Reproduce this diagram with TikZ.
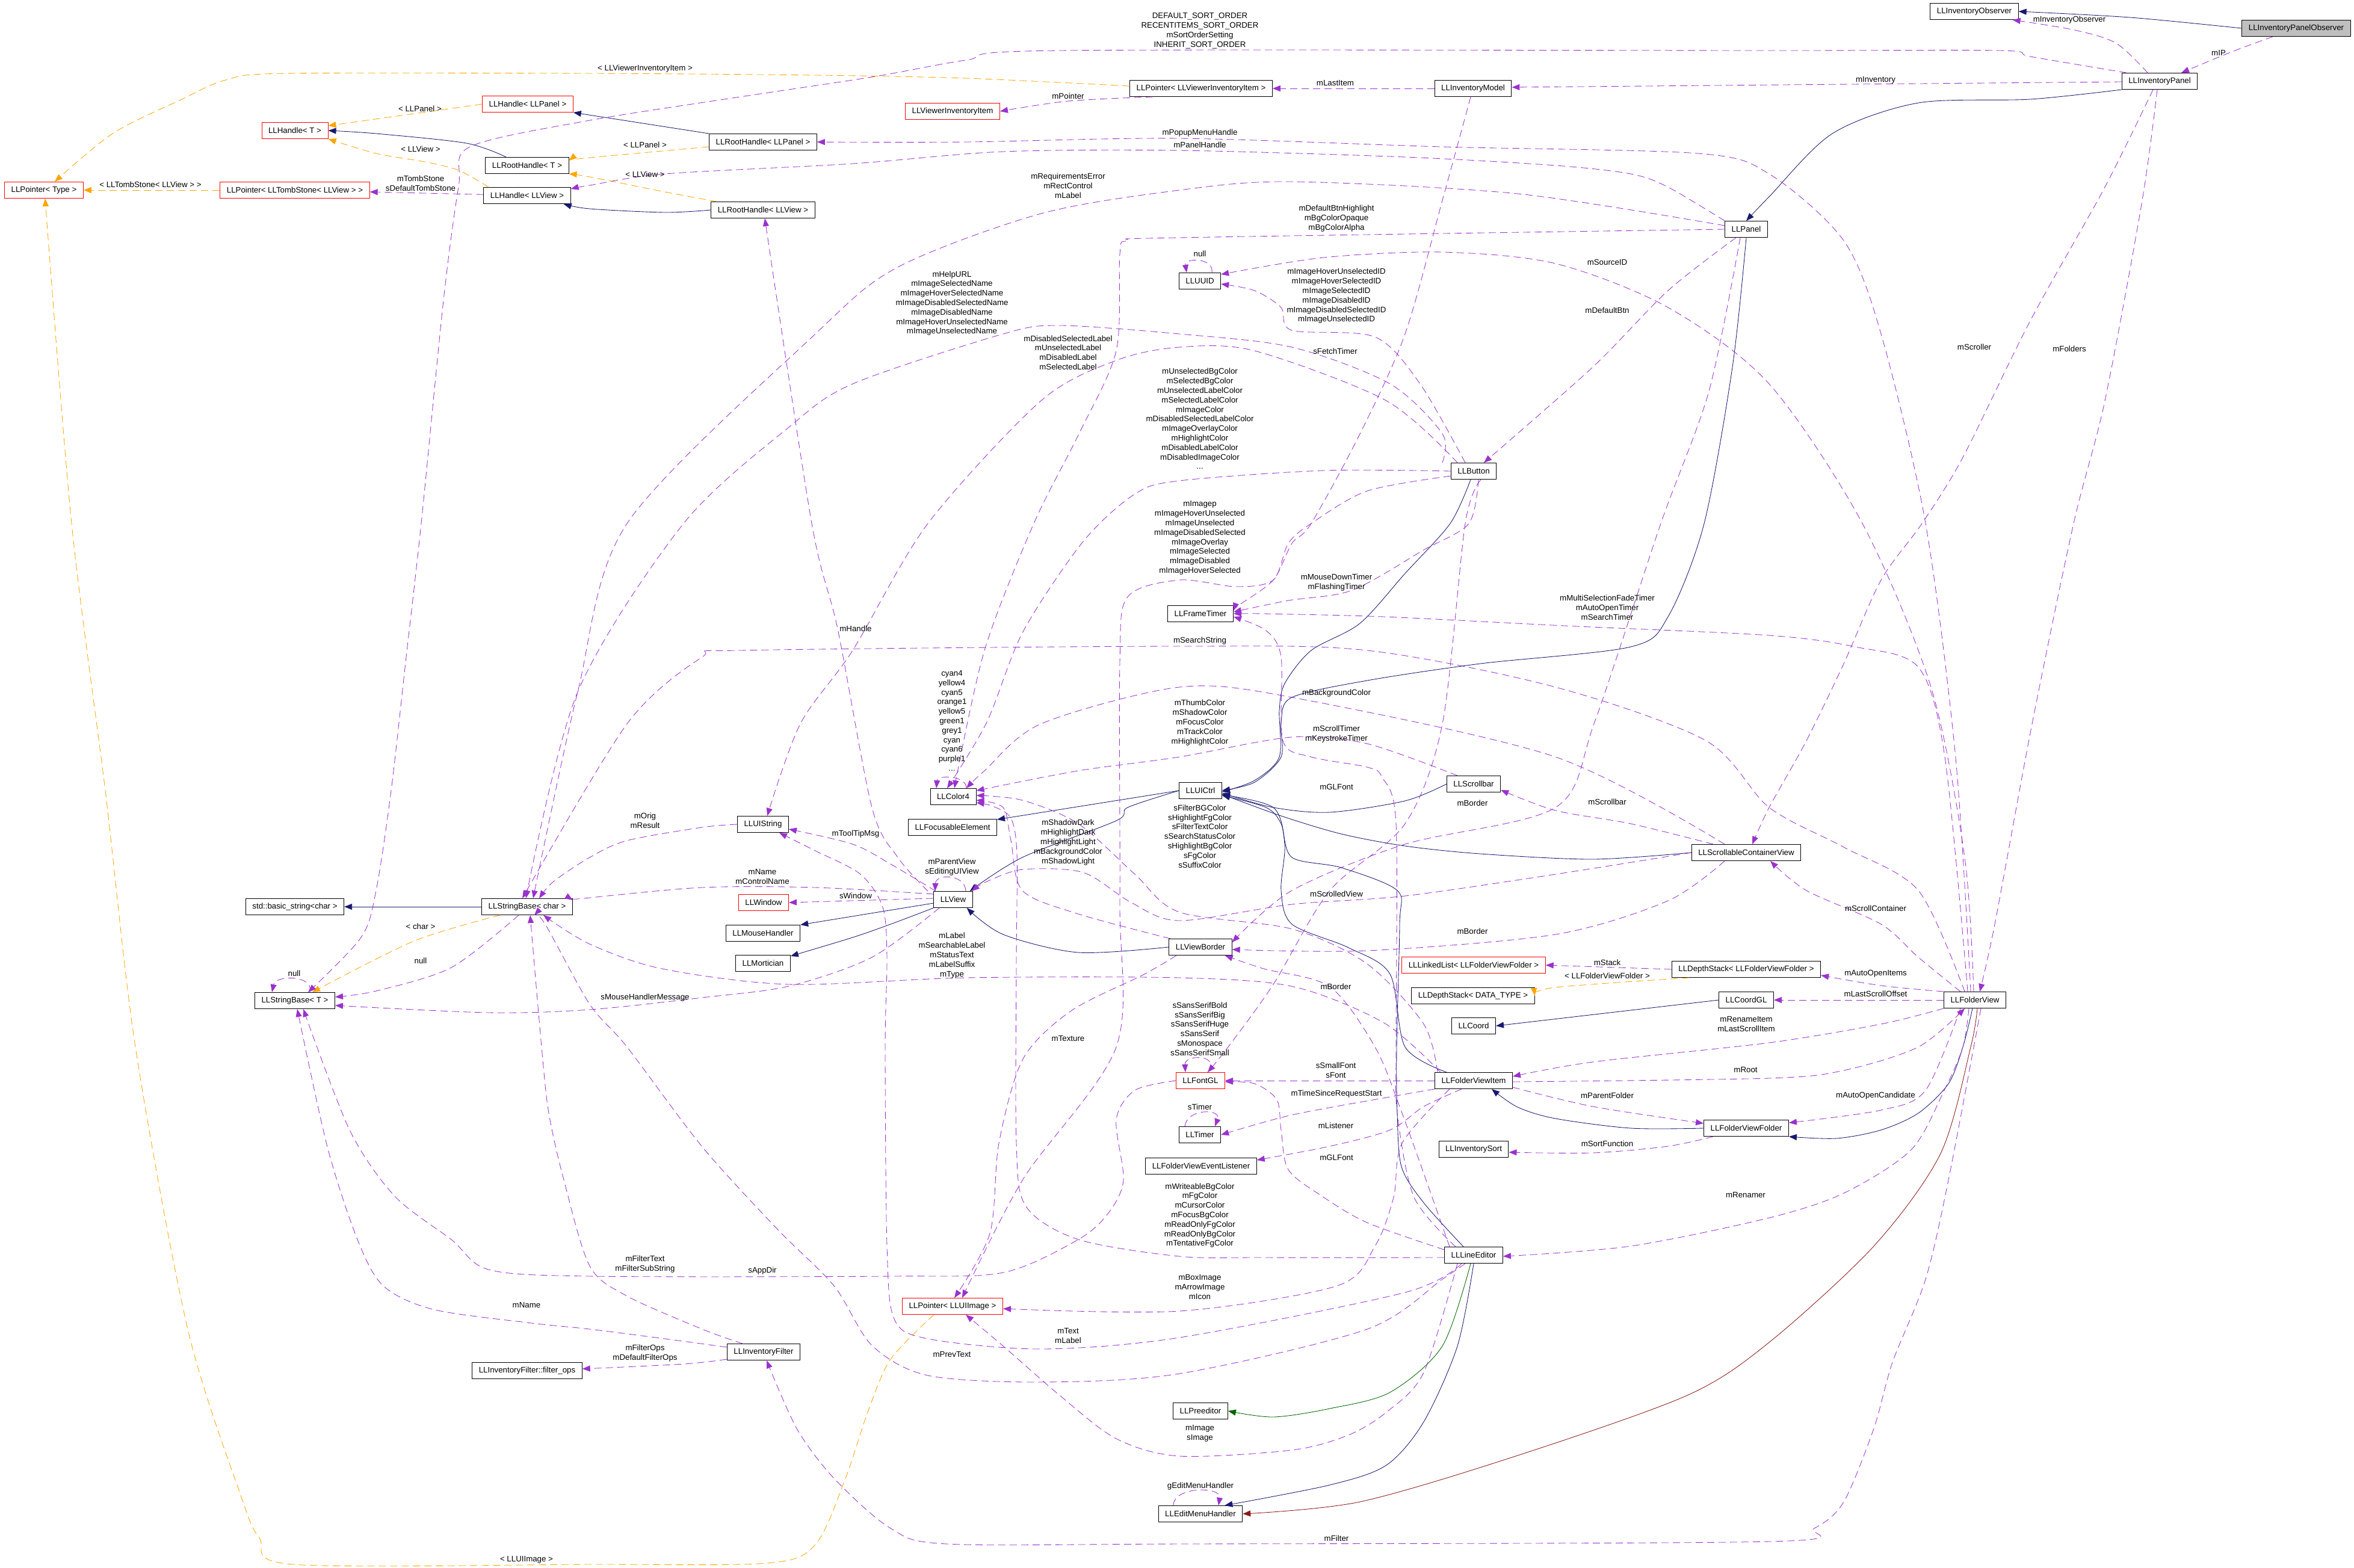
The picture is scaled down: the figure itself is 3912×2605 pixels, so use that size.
\documentclass[tikz,border=0pt]{standalone}
\usepackage{fontspec}
\setmainfont{Liberation Sans}
\usetikzlibrary{arrows.meta}
\definecolor{navyedge}{RGB}{25,25,112}
\definecolor{memberedge}{RGB}{154,50,205}
\definecolor{tmpledge}{RGB}{255,165,0}
\definecolor{protedge}{RGB}{0,100,0}
\definecolor{privedge}{RGB}{139,26,26}
\definecolor{rootfill}{RGB}{191,191,191}
\newcommand\lbl{\fontsize{13.3pt}{15.8pt}\selectfont}
\begin{document}
\begin{tikzpicture}[x=1pt,y=-1pt,
  cls/.style={draw=black, line width=1pt, font=\lbl, minimum height=27pt, inner xsep=11pt, inner ysep=0pt},
  undoc/.style={cls, draw=red},
  edgelbl/.style={font=\lbl, align=center, inner sep=0pt},
  inh/.style={navyedge, line width=0.85pt, -{Triangle[length=13pt,width=10pt]}},
  member/.style={memberedge, line width=0.85pt, dash pattern=on 12pt off 7pt, -{Triangle[length=13pt,width=10pt]}},
  tmpl/.style={tmpledge, line width=0.85pt, dash pattern=on 12pt off 7pt, -{Triangle[length=13pt,width=10pt]}},
  prot/.style={protedge, line width=0.85pt, -{Triangle[length=13pt,width=10pt]}},
  priv/.style={privedge, line width=0.85pt, -{Triangle[length=13pt,width=10pt]}}]
\useasboundingbox (0,0) rectangle (3912,2605);

\node[undoc] (ptrtype) at (73,316) {LLPointer< Type >};
\node[undoc] (ptrtomb) at (490,316) {LLPointer< LLTombStone< LLView > >};
\node[undoc] (handleT) at (490,217) {LLHandle< T >};
\node[undoc] (handlepanel) at (877,173) {LLHandle< LLPanel >};
\node[cls] (roothandleT) at (876,275) {LLRootHandle< T >};
\node[cls] (handleview) at (876,325) {LLHandle< LLView >};
\node[cls] (roothandlepanel) at (1268,236) {LLRootHandle< LLPanel >};
\node[cls] (roothandleview) at (1268,349) {LLRootHandle< LLView >};
\node[undoc] (viewerinvitem) at (1583,185) {LLViewerInventoryItem};
\node[cls] (ptrviewerinv) at (1996,147) {LLPointer< LLViewerInventoryItem >};
\node[cls] (invmodel) at (2448,147) {LLInventoryModel};
\node[cls] (invobserver) at (3281,19) {LLInventoryObserver};
\node[cls, fill=rootfill] (invpanelobs) at (3816,47) {LLInventoryPanelObserver};
\node[cls] (invpanel) at (3589,135) {LLInventoryPanel};
\node[cls] (panel) at (2902,381) {LLPanel};
\node[cls] (uuid) at (1994,467) {LLUUID};
\node[cls] (button) at (2449,783) {LLButton};
\node[cls] (frametimer) at (1995,1020) {LLFrameTimer};
\node[cls] (color4) at (1584,1324) {LLColor4};
\node[cls] (focusable) at (1583,1375) {LLFocusableElement};
\node[cls] (uistring) at (1268,1370) {LLUIString};
\node[cls] (uictrl) at (1995,1314) {LLUICtrl};
\node[cls] (scrollbar) at (2449,1303) {LLScrollbar};
\node[cls] (scrollcont) at (2902,1417) {LLScrollableContainerView};
\node[cls] (view) at (1584,1495) {LLView};
\node[undoc] (window) at (1269,1500) {LLWindow};
\node[cls] (mousehandler) at (1268,1551) {LLMouseHandler};
\node[cls] (mortician) at (1268,1601) {LLMortician};
\node[cls] (basicstring) at (490,1507) {std::basic\_string<char >};
\node[cls] (strbasechar) at (876,1507) {LLStringBase< char >};
\node[cls] (strbaseT) at (490,1663) {LLStringBase< T >};
\node[cls] (viewborder) at (1995,1574) {LLViewBorder};
\node[undoc] (linkedlist) at (2449,1604) {LLLinkedList< LLFolderViewFolder >};
\node[cls] (depthstackfvf) at (2902,1611) {LLDepthStack< LLFolderViewFolder >};
\node[cls] (depthstackT) at (2448,1655) {LLDepthStack< DATA\_TYPE >};
\node[cls] (coordgl) at (2902,1662) {LLCoordGL};
\node[cls] (coord) at (2449,1705) {LLCoord};
\node[cls] (folderview) at (3282,1662) {LLFolderView};
\node[undoc] (fontgl) at (1995,1796) {LLFontGL};
\node[cls] (folderviewitem) at (2449,1796) {LLFolderViewItem};
\node[cls] (timer) at (1994,1886) {LLTimer};
\node[cls] (eventlistener) at (1996,1938) {LLFolderViewEventListener};
\node[cls] (folderviewfolder) at (2902,1875) {LLFolderViewFolder};
\node[cls] (invsort) at (2449,1910) {LLInventorySort};
\node[cls] (lineeditor) at (2449,2086) {LLLineEditor};
\node[undoc] (ptruiimage) at (1583,2171) {LLPointer< LLUIImage >};
\node[cls] (invfilter) at (1269,2247) {LLInventoryFilter};
\node[cls] (filterops) at (876,2278) {LLInventoryFilter::filter\_ops};
\node[cls] (preeditor) at (1995,2345) {LLPreeditor};
\node[cls] (editmenu) at (1995,2516) {LLEditMenuHandler};

\draw[inh] plot[smooth] coordinates {(invpanelobs.west) (3540,29) (invobserver.east)};
\draw[inh] plot[smooth] coordinates {(invpanel.south west) (3374,165) (3188,171) (3045,222) (2940,327) (panel.north)};
\draw[inh] (roothandlepanel.north west) -- (handlepanel.south east);
\draw[inh] plot[smooth] coordinates {([xshift=-35pt]roothandleT.north) (775,238) (625,222) (handleT.east)};
\draw[inh] plot[smooth] coordinates {(roothandleview.west) (1105,353) (980,347) ([xshift=-12pt]handleview.south east)};
\draw[inh] (strbasechar) -- (basicstring);
\draw[inh] plot[smooth] coordinates {(uictrl.west) (1874,1342) (1855,1364) (1699,1425) ([xshift=-5pt]view.north east)};
\draw[inh] (uictrl.west) -- ([yshift=-1pt]focusable.north east);
\draw[inh] ([yshift=8pt]view.south west) -- (mousehandler.north east);
\draw[inh] plot[smooth] coordinates {(view.south west) (1480,1536) (1417,1558) ([yshift=-2pt]mortician.north east)};
\draw[inh] plot[smooth] coordinates {(viewborder.west) (1792,1583) (1667,1553) ([xshift=-10pt]view.south east)};
\draw[inh] plot[smooth] coordinates {([xshift=-5pt]button.south) (2410,870) (2335,953) (2260,1036) (2179,1081) (2135,1136) (2126,1181) (2126,1258) (2085,1297) ([yshift=-2pt]uictrl.east)};
\draw[inh] plot[smooth] coordinates {(panel.south) (2879,610) (2832,870) (2772,1025) (2710,1075) (2460,1103) (2272,1131) (2147,1159) (2129,1200) (2129,1258) (2085,1300) (uictrl.east)};
\draw[inh] plot[smooth] coordinates {(scrollbar.west) (2335,1331) (2210,1350) (2116,1342) ([yshift=-4pt]uictrl.east)};
\draw[inh] plot[smooth] coordinates {(scrollcont.west) (2647,1428) (2460,1419) (2335,1406) (2229,1386) (2129,1356) ([yshift=-6pt]uictrl.east)};
\draw[inh] plot[smooth] coordinates {([xshift=-45pt]folderviewitem.north) (2335,1740) (2310,1619) (2241,1575) (2147,1536) (2129,1480) (2135,1403) (2116,1342) ([yshift=-7pt]uictrl.east)};
\draw[inh] plot[smooth] coordinates {([xshift=-17pt]lineeditor.north) (2366,1999) (2329,1939) (2322,1850) (2321,1740) (2326,1536) (2322,1480) (2229,1442) (2147,1425) (2129,1369) (2104,1342) ([yshift=-8pt]uictrl.east)};
\draw[inh] plot[smooth] coordinates {(folderviewfolder.west) (2710,1875) (2585,1859) (2522,1840) ([xshift=30pt]folderviewitem.south)};
\draw[inh] plot[smooth] coordinates {([xshift=-4pt]folderview.south) (3262,1740) (3238,1801) (3188,1850) (3126,1878) (3052,1892) (folderviewfolder.south east)};
\draw[inh] (coordgl.west) -- (coord.east);
\draw[inh] plot[smooth] coordinates {(lineeditor.south) (2422,2237) (2366,2363) (2304,2435) (2210,2468) ([xshift=-30pt]editmenu.north east)};
\draw[priv] plot[smooth] coordinates {([xshift=4pt]folderview.south) (3275,1740) (3225,1917) (3114,2071) (2940,2231) (2804,2319) (2522,2419) (2260,2496) (editmenu.east)};
\draw[prot] plot[smooth] coordinates {([xshift=-5pt]lineeditor.south) (2397,2237) (2310,2314) (2210,2341) (2116,2355) (preeditor.east)};

\draw[tmpl] (handlepanel.west) -- ([yshift=-6pt]handleT.north east);
\draw[tmpl] plot[smooth] coordinates {([xshift=-64pt]handleview.north) (762,283) (706,269) (625,255) (handleT.south east)};
\draw[tmpl] (ptrtomb) -- (ptrtype);
\draw[tmpl] plot[smooth] coordinates {([yshift=-8pt]roothandlepanel.west) (980,262) ([yshift=8pt]roothandleT.east)};
\draw[tmpl] plot[smooth] coordinates {([xshift=10pt]roothandleview.north west) (1105,319) (980,294) ([yshift=-14pt]roothandleT.east)};
\draw[tmpl] plot[smooth] coordinates {([yshift=4pt]ptrviewerinv.west) (1605,130) (1355,125) (980,122) (475,122) (375,133) (300,166) (187,222) ([xshift=18pt]ptrtype.north)};
\draw[tmpl] plot[smooth] coordinates {([xshift=-45pt]strbasechar.south) (688,1564) ([xshift=29pt]strbaseT.north)};
\draw[tmpl] plot[smooth] coordinates {([xshift=29pt]depthstackfvf.south west) (2585,1641) (depthstackT.east)};
\draw[tmpl] plot[smooth] coordinates {([xshift=-31pt]ptruiimage.south) (1480,2259) (1442,2347) (1405,2457) (1355,2567) (1274,2598) (980,2600) (487,2600) (431,2556) (400,2485) (312,2209) (225,1740) (175,1314) (119,870) ([xshift=2pt]ptrtype.south)};

\draw[member] plot[smooth] coordinates {([xshift=-20pt]invpanel.north) (3517,72) (3448,50) ([xshift=-10pt]invobserver.south east)};
\draw[member] plot[smooth] coordinates {([xshift=-39pt]invpanelobs.south) (3709,86) ([xshift=36pt]invpanel.north)};
\draw[member] ([yshift=-1pt]invpanel.west) -- ([yshift=2pt]invmodel.east);
\draw[member] (invmodel) -- (ptrviewerinv);
\draw[member] plot[smooth] coordinates {([xshift=-80pt]ptrviewerinv.south) (1775,168) (viewerinvitem.east)};
\draw[member] plot[smooth] coordinates {([xshift=-55pt]invpanel.north) (3374,94) (3324,84) (2940,84) (1761,84) (1605,100) (1449,128) (1230,161) (980,200) (781,244) (762,311) (737,499) (700,870) (675,1092) (650,1314) (625,1480) (600,1558) ([xshift=22pt]strbaseT.north)};
\draw[member] plot[smooth] coordinates {([xshift=-7pt]folderview.north) (3250,1260) (3200,870) (3126,555) (3064,400) (2940,289) (2822,255) (2397,244) (1960,230) (1605,236) (roothandlepanel.east)};
\draw[member] plot[smooth] coordinates {(panel.north west) (2772,311) (2710,289) (2585,275) (2335,261) (1960,250) (1667,252) (1417,272) (1105,289) (980,308) ([yshift=-3pt]handleview.north east)};
\draw[member] plot[smooth] coordinates {([yshift=6pt]panel.west) (2522,322) (2147,302) (1960,316) (1730,355) (1492,444) (1355,555) (1042,870) (960,1150) ([xshift=10pt]strbasechar.north)};
\draw[member] plot[smooth] coordinates {(panel.west) (1960,395) (1874,400) (1861,422) (1855,583) (1793,721) (1718,870) (1636,1081) ([xshift=2pt]color4.north)};
\draw[member] plot[smooth] coordinates {([xshift=-17pt]panel.south) (2772,483) (2647,610) ([xshift=17pt]button.north)};
\draw[member] plot[smooth] coordinates {([xshift=-14pt]button.north) (2360,638) (2285,560) (2147,549) (2129,511) (2085,483) ([yshift=-5pt]uuid.east)};
\draw[member] plot[smooth] coordinates {([xshift=-2pt]folderview.north) (3265,1425) (3209,1142) (3095,870) (2940,638) (2772,511) (2585,438) (2397,419) (2200,428) ([yshift=11pt]uuid.east)};
\draw[member] ([xshift=20pt]uuid.north) .. controls (2018,428) and (1968,428) .. ([xshift=-22pt]uuid.north);
\draw[member] plot[smooth] coordinates {([xshift=-4pt]invmodel.south) (2397,333) (2335,555) (2260,721) (2179,870) (2147,903) (2116,964) (2060,1005) ([yshift=5pt]frametimer.east)};
\draw[member] plot[smooth] coordinates {([xshift=8pt]button.south) (2441,870) (2366,914) (2247,981) (2141,998) ([yshift=3pt]frametimer.east)};
\draw[member] plot[smooth] coordinates {([xshift=-12pt]folderview.north) (3232,1258) (3188,1109) (3083,1075) (2940,1056) (2600,1040) (2300,1025) (2100,1020) (frametimer.east)};
\draw[member] plot[smooth] coordinates {(button.west) (2200,782) (1960,799) (1886,821) (1800,900) (1700,1050) (1640,1200) ([xshift=-10pt]color4.north)};
\draw[member] plot[smooth] coordinates {([xshift=-14pt]button.north west) (2397,721) (2310,638) (2147,577) (1960,555) (1761,541) (1667,555) (1417,638) (1311,710) (1136,870) (960,1150) ([xshift=-2pt]strbasechar.north)};
\draw[member] plot[smooth] coordinates {([xshift=-27pt]button.north) (2304,666) (2085,583) (1960,577) (1855,599) (1730,666) (1542,870) (1417,1081) (1330,1203) ([xshift=7pt]uistring.north)};
\draw[member] plot[smooth] coordinates {([yshift=-8pt]button.west) (2272,816) (2179,870) (2141,903) (2116,964) (2054,975) (1960,964) (1874,992) (1861,1100) (1861,1500) (1855,1740) (1700,1960) ([xshift=16pt]ptruiimage.north)};
\draw[member] plot[smooth] coordinates {([xshift=-42pt]view.north) (1492,1425) (1449,1342) (1392,1045) (1349,870) ([xshift=3pt]roothandleview.south)};
\draw[member] ([xshift=21pt]view.north) .. controls (1604,1452) and (1555,1452) .. ([xshift=-30pt]view.north);
\draw[member] plot[smooth] coordinates {([xshift=-29pt]view.north) (1480,1436) (1417,1403) ([yshift=-8pt]uistring.east)};
\draw[member] plot[smooth] coordinates {([yshift=9pt]view.west) (1355,1475) (1167,1475) (980,1492) ([yshift=11pt]strbasechar.east)};
\draw[member] ([yshift=2pt]view.west) -- (window.east);
\draw[member] plot[smooth] coordinates {([xshift=-23pt]view.south) (1449,1591) (1311,1639) (1167,1658) (980,1678) (812,1683) ([yshift=-8pt]strbaseT.east)};
\draw[member] plot[smooth] coordinates {(uistring.west) (1167,1375) (1042,1397) (980,1425) (920,1465) ([xshift=20pt]strbasechar.north)};
\draw[member] ([xshift=22pt]color4.north) .. controls (1606,1288) and (1558,1288) .. ([xshift=-28pt]color4.north);
\draw[member] plot[smooth] coordinates {([xshift=-36pt]scrollcont.north) (2585,1258) (2147,1159) (1960,1142) (1730,1203) (1636,1281) ([xshift=22pt]color4.north)};
\draw[member] plot[smooth] coordinates {([xshift=-27pt]scrollbar.north) (2272,1236) (2147,1225) (1960,1258) (1792,1281) ([yshift=10pt]color4.east)};
\draw[member] plot[smooth] coordinates {([xshift=-30pt]lineeditor.north) (2350,1990) (2322,1850) (2320,1740) (2320,1369) (2297,1292) (2272,1275) (2179,1258) (2132,1231) (2129,1092) (2104,1048) ([yshift=-5pt]frametimer.east)};
\draw[member] plot[smooth] coordinates {([xshift=12pt]button.south) (2435,870) (2397,1203) (2335,1369) (2210,1480) (2116,1636) (2041,1740) ([xshift=12pt]fontgl.north)};
\draw[member] plot[smooth] coordinates {([yshift=9pt]lineeditor.west) (2272,2032) (2197,1988) (2141,1944) (2129,1878) (2122,1828) (2085,1801) ([yshift=-2pt]fontgl.east)};
\draw[member] plot[smooth] coordinates {([xshift=-55pt]scrollcont.north) (2710,1369) (2585,1347) ([yshift=-10pt]scrollbar.east)};
\draw[member] plot[smooth] coordinates {(scrollcont.west) (2585,1453) (2335,1489) (2147,1503) (1960,1530) (1880,1500) (1800,1450) (1700,1445) (1640,1465) ([xshift=-2pt]view.north east)};
\draw[member] plot[smooth] coordinates {([xshift=-36pt]scrollcont.south) (2772,1497) (2585,1553) (2272,1580) ([yshift=-4pt]viewborder.east)};
\draw[member] plot[smooth] coordinates {([xshift=-10pt]panel.south) (2840,650) (2760,870) (2650,1200) (2585,1342) (2335,1403) (2147,1480) ([yshift=8pt]viewborder.east)};
\draw[member] plot[smooth] coordinates {([xshift=-40pt]lineeditor.north) (2330,1850) (2285,1740) (2210,1640) (2100,1610) ([xshift=-12pt]viewborder.south east)};
\draw[member] (folderviewitem.west) -- (fontgl.east);
\draw[member] plot[smooth] coordinates {(folderviewitem.south west) (2310,1823) (2147,1853) (timer.east)};
\draw[member] plot[smooth] coordinates {([xshift=-20pt]folderviewitem.south) (2366,1839) (2310,1878) (2210,1905) ([yshift=10pt]eventlistener.east)};
\draw[member] plot[smooth] coordinates {([yshift=-11pt]folderviewitem.east) (2647,1839) ([yshift=8pt]folderviewfolder.west)};
\draw[member] plot[smooth] coordinates {([xshift=-55pt]folderviewfolder.south) (2772,1905) (2647,1916) ([yshift=-5pt]invsort.east)};
\draw[member] plot[smooth] coordinates {([yshift=-2pt]folderviewitem.east) (2940,1792) (3064,1779) (3188,1740) ([xshift=-17pt]folderview.south)};
\draw[member] plot[smooth] coordinates {(folderview.south west) (3126,1702) (2940,1733) (2647,1765) ([yshift=7pt]folderviewitem.east)};
\draw[member] plot[smooth] coordinates {([xshift=-10pt]folderview.south) (3262,1740) (3231,1812) (3176,1911) (3064,1983) (2940,2024) (2710,2071) ([yshift=-2pt]lineeditor.east)};
\draw[member] plot[smooth] coordinates {([xshift=-24pt]folderview.south) (3200,1812) (3126,1845) ([yshift=9pt]folderviewfolder.east)};
\draw[member] plot[smooth] coordinates {([xshift=10pt]folderview.south) (3238,1961) (3200,2126) (3145,2264) (3114,2374) (3064,2496) (3015,2540) (2940,2562) (1960,2566) (1574,2566) (1480,2540) (1386,2457) (1324,2374) ([xshift=5pt]invfilter.south)};
\draw[member] plot[smooth] coordinates {([yshift=-12pt]invfilter.west) (1136,2267) ([yshift=3pt]filterops.east)};
\draw[member] plot[smooth] coordinates {([xshift=-35pt]invfilter.north) (1167,2209) (1042,2154) (980,2104) (937,1961) (912,1850) (900,1740) ([xshift=5pt]strbasechar.south)};
\draw[member] plot[smooth] coordinates {([yshift=8pt]invfilter.west) (1105,2225) (980,2209) (875,2198) (719,2176) (637,2137) (594,2060) (544,1906) ([xshift=4pt]strbaseT.south)};
\draw[member] plot[smooth] coordinates {(fontgl.west) (1886,1812) (1855,1861) (1867,1961) (1842,2016) (1792,2060) (1667,2115) (1480,2121) (980,2121) (812,2110) (750,2060) (656,1988) (581,1878) ([xshift=14pt]strbaseT.south)};
\draw[member] ([xshift=12pt]fontgl.north) .. controls (2030,1752) and (1968,1752) .. ([xshift=-25pt]fontgl.north);
\draw[member] ([xshift=-25pt]timer.north) .. controls (1972,1842) and (2030,1842) .. ([xshift=25pt]timer.north);
\draw[member] ([xshift=-45pt]editmenu.north) .. controls (1950,2470) and (2030,2470) .. ([xshift=30pt]editmenu.north);
\draw[member] ([xshift=25pt]strbaseT.north) .. controls (522,1620) and (458,1620) .. ([xshift=-38pt]strbaseT.north);
\draw[member] plot[smooth] coordinates {([yshift=-4pt]lineeditor.west) (2100,2090) (1960,2088) (1792,2060) (1705,2005) (1689,1900) (1689,1600) (1690,1420) (1680,1360) (1650,1340) ([yshift=-10pt]color4.east)};
\draw[member] plot[smooth] coordinates {([xshift=-40pt]folderviewitem.south) (2330,1900) (2316,1990) (2285,2071) (2222,2137) (1960,2179) ([yshift=-4pt]ptruiimage.east)};
\draw[member] plot[smooth] coordinates {([xshift=-27pt]lineeditor.south) (2366,2281) (2304,2347) (2241,2385) (2147,2410) (1960,2420) (1855,2391) (1761,2319) (1667,2237) ([xshift=22pt]ptruiimage.south)};
\draw[member] plot[smooth] coordinates {([xshift=-20pt]lineeditor.south) (2335,2148) (1960,2223) (1730,2242) (1542,2225) (1486,2192) (1474,2071) (1471,1740) (1474,1591) (1467,1508) (1430,1453) (1355,1414) ([xshift=27pt]uistring.south)};
\draw[member] plot[smooth] coordinates {([xshift=-14pt]lineeditor.south) (2397,2126) (2272,2209) (1960,2283) (1730,2297) (1542,2286) (1449,2236) (1386,2137) (1292,2043) (1167,1906) (1042,1740) (980,1669) (906,1536) ([xshift=12pt]strbasechar.south)};
\draw[member] plot[smooth] coordinates {([xshift=-40pt]viewborder.south) (1900,1620) (1780,1680) (1700,1760) (1660,1900) (1645,2050) ([xshift=3pt]ptruiimage.north)};
\draw[member] plot[smooth] coordinates {([xshift=-17pt]folderview.north) (3188,1480) (3064,1408) (2940,1342) (2835,1231) (2585,1142) (2272,1081) (1960,1074) (1230,1081) (1167,1092) (1042,1203) ([xshift=-8pt]strbasechar.north)};
\draw[member] plot[smooth] coordinates {([xshift=-24pt]folderview.north) (3188,1591) (3126,1536) (3002,1480) ([xshift=40pt]scrollcont.south)};
\draw[member] plot[smooth] coordinates {(folderview.north west) (3126,1638) ([yshift=-10pt]depthstackfvf.east)};
\draw[member] (folderview.west) -- (coordgl.east);
\draw[member] (depthstackfvf.west) -- (linkedlist.east);
\draw[member] plot[smooth] coordinates {([xshift=-11pt]invpanel.south) (3498,311) (3374,533) (3262,760) (3194,870) (3126,964) (3064,1103) (3002,1231) (2940,1342) ([xshift=10pt]scrollcont.north)};
\draw[member] plot[smooth] coordinates {([xshift=-4pt]invpanel.south) (3560,333) (3498,666) (3446,870) (3377,1203) (3315,1536) ([xshift=8pt]folderview.north)};
\draw[member] plot[smooth] coordinates {([xshift=-14pt]strbasechar.south) (750,1608) (625,1647) ([yshift=6pt]strbaseT.east)};
\draw[member] plot[smooth] coordinates {([xshift=-55pt]folderviewitem.north) (2300,1700) (2150,1640) (1960,1625) (1605,1625) (1311,1636) (1100,1610) (980,1569) ([xshift=27pt]strbasechar.south)};
\draw[member] (handleview) -- (ptrtomb);
\draw[member] plot[smooth] coordinates {([xshift=-60pt]folderviewitem.north) (2366,1702) (2272,1602) (2147,1544) (1960,1516) (1886,1453) (1792,1369) (1699,1330) ([yshift=2pt]color4.east)};
\draw[member] plot[smooth] coordinates {([xshift=-50pt]viewborder.north) (1792,1519) (1699,1480) (1680,1397) (1667,1342) ([yshift=-6pt]color4.east)};

\node[edgelbl] (lbPanelT) at (698,181) {< LLPanel >};
\node[edgelbl] (lbViewT) at (699,248) {< LLView >};
\node[edgelbl] (lbTombT) at (250,307) {< LLTombStone< LLView > >};
\node[edgelbl] (lbTomb) at (699,305) {mTombStone\\sDefaultTombStone};
\node[edgelbl] (lbViewerT) at (1072,114) {< LLViewerInventoryItem >};
\node[edgelbl] (lbPointer) at (1775,160) {mPointer};
\node[edgelbl] (lbRootPanelT) at (1072,241) {< LLPanel >};
\node[edgelbl] (lbRootViewT) at (1072,290) {< LLView >};
\node[edgelbl] (lbSort) at (1994,51) {DEFAULT\_SORT\_ORDER\\RECENTITEMS\_SORT\_ORDER\\mSortOrderSetting\\INHERIT\_SORT\_ORDER};
\node[edgelbl] (lbLastItem) at (2219,138) {mLastItem};
\node[edgelbl] (lbInvObs) at (3439,33) {mInventoryObserver};
\node[edgelbl] (lbIP) at (3687,88) {mIP};
\node[edgelbl] (lbInventory) at (3117,133) {mInventory};
\node[edgelbl] (lbPopup) at (1994,221) {mPopupMenuHandle};
\node[edgelbl] (lbPanelHandle) at (1994,241) {mPanelHandle};
\node[edgelbl] (lbReq) at (1775,309) {mRequirementsError\\mRectControl\\mLabel};
\node[edgelbl] (lbBtnHi) at (2221,363) {mDefaultBtnHighlight\\mBgColorOpaque\\mBgColorAlpha};
\node[edgelbl] (lbNullId) at (1994,422) {null};
\node[edgelbl] (lbSourceId) at (2671,436) {mSourceID};
\node[edgelbl] (lbIds) at (2221,492) {mImageHoverUnselectedID\\mImageHoverSelectedID\\mImageSelectedID\\mImageDisabledID\\mImageDisabledSelectedID\\mImageUnselectedID};
\node[edgelbl] (lbDefBtn) at (2671,516) {mDefaultBtn};
\node[edgelbl] (lbNames) at (1582,504) {mHelpURL\\mImageSelectedName\\mImageHoverSelectedName\\mImageDisabledSelectedName\\mImageDisabledName\\mImageHoverUnselectedName\\mImageUnselectedName};
\node[edgelbl] (lbBtnLabels) at (1775,586) {mDisabledSelectedLabel\\mUnselectedLabel\\mDisabledLabel\\mSelectedLabel};
\node[edgelbl] (lbFetch) at (2219,584) {sFetchTimer};
\node[edgelbl] (lbBtnColors) at (1994,696) {mUnselectedBgColor\\mSelectedBgColor\\mUnselectedLabelColor\\mSelectedLabelColor\\mImageColor\\mDisabledSelectedLabelColor\\mImageOverlayColor\\mHighlightColor\\mDisabledLabelColor\\mDisabledImageColor\\...};
\node[edgelbl] (lbScroller) at (3281,577) {mScroller};
\node[edgelbl] (lbFolders) at (3439,580) {mFolders};
\node[edgelbl] (lbImages) at (1994,894) {mImagep\\mImageHoverUnselected\\mImageUnselected\\mImageDisabledSelected\\mImageOverlay\\mImageSelected\\mImageDisabled\\mImageHoverSelected};
\node[edgelbl] (lbBtnTimers) at (2221,968) {mMouseDownTimer\\mFlashingTimer};
\node[edgelbl] (lbFvTimers) at (2671,1010) {mMultiSelectionFadeTimer\\mAutoOpenTimer\\mSearchTimer};
\node[edgelbl] (lbHandle) at (1422,1045) {mHandle};
\node[edgelbl] (lbSearch) at (1994,1065) {mSearchString};
\node[edgelbl] (lbColorStatics) at (1582,1198) {cyan4\\yellow4\\cyan5\\orange1\\yellow5\\green1\\grey1\\cyan\\cyan6\\purple1\\...};
\node[edgelbl] (lbBackground) at (2221,1152) {mBackgroundColor};
\node[edgelbl] (lbThumb) at (1994,1201) {mThumbColor\\mShadowColor\\mFocusColor\\mTrackColor\\mHighlightColor};
\node[edgelbl] (lbScrollTimer) at (2221,1220) {mScrollTimer\\mKeystrokeTimer};
\node[edgelbl] (lbGLFontBtn) at (2221,1308) {mGLFont};
\node[edgelbl] (lbBorderPanel) at (2447,1335) {mBorder};
\node[edgelbl] (lbScrollbar) at (2671,1333) {mScrollbar};
\node[edgelbl] (lbFilterColors) at (1994,1390) {sFilterBGColor\\sHighlightFgColor\\sFilterTextColor\\sSearchStatusColor\\sHighlightBgColor\\sFgColor\\sSuffixColor};
\node[edgelbl] (lbOrig) at (1072,1364) {mOrig\\mResult};
\node[edgelbl] (lbToolTip) at (1422,1386) {mToolTipMsg};
\node[edgelbl] (lbShadow) at (1775,1400) {mShadowDark\\mHighlightDark\\mHighlightLight\\mBackgroundColor\\mShadowLight};
\node[edgelbl] (lbParent) at (1582,1441) {mParentView\\sEditingUIView};
\node[edgelbl] (lbName) at (1267,1457) {mName\\mControlName};
\node[edgelbl] (lbWindow) at (1422,1489) {sWindow};
\node[edgelbl] (lbScrolled) at (2221,1486) {mScrolledView};
\node[edgelbl] (lbItemLabels) at (1582,1588) {mLabel\\mSearchableLabel\\mStatusText\\mLabelSuffix\\mType};
\node[edgelbl] (lbBorderScroll) at (2447,1548) {mBorder};
\node[edgelbl] (lbCharT) at (699,1540) {< char >};
\node[edgelbl] (lbNullChar) at (699,1597) {null};
\node[edgelbl] (lbNullT) at (489,1618) {null};
\node[edgelbl] (lbStack) at (2671,1600) {mStack};
\node[edgelbl] (lbFolderT) at (2671,1622) {< LLFolderViewFolder >};
\node[edgelbl] (lbBorderEdit) at (2220,1640) {mBorder};
\node[edgelbl] (lbMouseMsg) at (1072,1658) {sMouseHandlerMessage};
\node[edgelbl] (lbScrollCont) at (3117,1510) {mScrollContainer};
\node[edgelbl] (lbAutoItems) at (3117,1618) {mAutoOpenItems};
\node[edgelbl] (lbScrollOffset) at (3117,1652) {mLastScrollOffset};
\node[edgelbl] (lbRename) at (2902,1702) {mRenameItem\\mLastScrollItem};
\node[edgelbl] (lbFonts) at (1994,1710) {sSansSerifBold\\sSansSerifBig\\sSansSerifHuge\\sSansSerif\\sMonospace\\sSansSerifSmall};
\node[edgelbl] (lbTexture) at (1775,1726) {mTexture};
\node[edgelbl] (lbSmallFont) at (2220,1779) {sSmallFont\\sFont};
\node[edgelbl] (lbRoot) at (2901,1778) {mRoot};
\node[edgelbl] (lbTimeSince) at (2221,1818) {mTimeSinceRequestStart};
\node[edgelbl] (lbParentFolder) at (2671,1821) {mParentFolder};
\node[edgelbl] (lbAutoCand) at (3117,1821) {mAutoOpenCandidate};
\node[edgelbl] (lbTimer) at (1994,1840) {sTimer};
\node[edgelbl] (lbListener) at (2220,1871) {mListener};
\node[edgelbl] (lbSort2) at (2671,1901) {mSortFunction};
\node[edgelbl] (lbGLFontEdit) at (2221,1924) {mGLFont};
\node[edgelbl] (lbEditColors) at (1994,2020) {mWriteableBgColor\\mFgColor\\mCursorColor\\mFocusBgColor\\mReadOnlyFgColor\\mReadOnlyBgColor\\mTentativeFgColor};
\node[edgelbl] (lbRenamer) at (2901,1986) {mRenamer};
\node[edgelbl] (lbFilterText) at (1072,2101) {mFilterText\\mFilterSubString};
\node[edgelbl] (lbAppDir) at (1267,2112) {sAppDir};
\node[edgelbl] (lbBoxImage) at (1994,2139) {mBoxImage\\mArrowImage\\mIcon};
\node[edgelbl] (lbFilterName) at (875,2169) {mName};
\node[edgelbl] (lbText) at (1775,2220) {mText\\mLabel};
\node[edgelbl] (lbFilterOps) at (1072,2249) {mFilterOps\\mDefaultFilterOps};
\node[edgelbl] (lbPrev) at (1582,2251) {mPrevText};
\node[edgelbl] (lbImage) at (1994,2382) {mImage\\sImage};
\node[edgelbl] (lbEditMenu) at (1995,2470) {gEditMenuHandler};
\node[edgelbl] (lbFilter) at (2221,2557) {mFilter};
\node[edgelbl] (lbImageT) at (875,2592) {< LLUIImage >};
\end{tikzpicture}
\end{document}
